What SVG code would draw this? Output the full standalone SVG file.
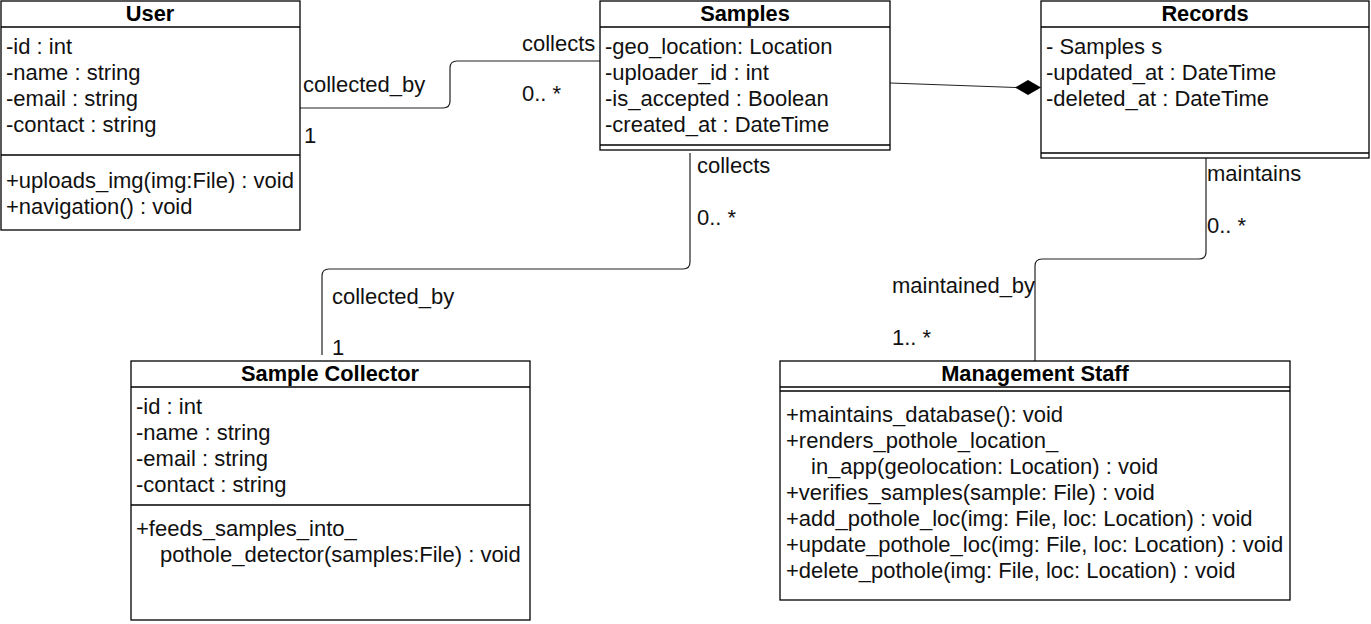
<svg xmlns="http://www.w3.org/2000/svg" width="1371" height="624" viewBox="0 0 1371 624">
<style>
.box{fill:#fff;stroke:#000;stroke-width:1.3}
.ln{stroke:#000;stroke-width:1.3;fill:none}
.t{font-family:"Liberation Sans",Arial,sans-serif;font-size:22px;fill:#111}
.h{font-family:"Liberation Sans",Arial,sans-serif;font-size:21.8px;font-weight:bold;fill:#000;text-anchor:middle}
.c{stroke:#222;stroke-width:1.2;fill:none}
</style>
<rect width="1371" height="624" fill="#fff"/>
<g id="connectors">
<path class="c" d="M300,108 L443,108 Q450,108 450,101 L450,68 Q450,61 457,61 L600,61"/>
<path class="c" d="M890,83 L1016,87.5"/>
<polygon points="1015,87.5 1028,80 1041,87.5 1028,95" fill="#000"/>
<path class="c" d="M690,153 L690,262 Q690,269 683,269 L329,269 Q322,269 322,276 L322,355"/>
<path class="c" d="M1206,158 L1206,252 Q1206,259 1199,259 L1042,259 Q1035,259 1035,266 L1035,361"/>
<text class="t" x="303" y="92">collected_by</text>
<text class="t" x="304" y="143">1</text>
<text class="t" x="522" y="51">collects</text>
<text class="t" x="522" y="101">0.. *</text>
<text class="t" x="697" y="173">collects</text>
<text class="t" x="697" y="225">0.. *</text>
<text class="t" x="332" y="304">collected_by</text>
<text class="t" x="332" y="355">1</text>
<text class="t" x="1207" y="181">maintains</text>
<text class="t" x="1207" y="233">0.. *</text>
<text class="t" x="892" y="293">maintained_by</text>
<text class="t" x="892" y="345">1.. *</text>
</g>
<g id="user">
<rect class="box" x="1" y="1" width="299" height="229"/>
<line class="ln" x1="1" y1="27" x2="300" y2="27"/>
<line class="ln" x1="1" y1="155" x2="300" y2="155"/>
<text class="h" x="150" y="21">User</text>
<text class="t" x="6" y="54">-id : int</text>
<text class="t" x="6" y="80">-name : string</text>
<text class="t" x="6" y="106">-email : string</text>
<text class="t" x="6" y="132">-contact : string</text>
<text class="t" x="6" y="188">+uploads_img(img:File) : void</text>
<text class="t" x="6" y="214">+navigation() : void</text>
</g>
<g id="samples">
<rect class="box" x="600" y="1" width="290" height="149"/>
<line class="ln" x1="600" y1="27" x2="890" y2="27"/>
<line class="ln" x1="600" y1="145" x2="890" y2="145"/>
<text class="h" x="745" y="21">Samples</text>
<text class="t" x="605" y="54">-geo_location: Location</text>
<text class="t" x="605" y="80">-uploader_id : int</text>
<text class="t" x="605" y="106">-is_accepted : Boolean</text>
<text class="t" x="605" y="132">-created_at : DateTime</text>
</g>
<g id="records">
<rect class="box" x="1041" y="1" width="328" height="157"/>
<line class="ln" x1="1041" y1="27" x2="1369" y2="27"/>
<line class="ln" x1="1041" y1="153" x2="1369" y2="153"/>
<text class="h" x="1205" y="21">Records</text>
<text class="t" x="1046" y="54">- Samples s</text>
<text class="t" x="1046" y="80">-updated_at : DateTime</text>
<text class="t" x="1046" y="106">-deleted_at : DateTime</text>
</g>
<g id="sample-collector">
<rect class="box" x="131" y="361" width="399" height="259"/>
<line class="ln" x1="131" y1="387" x2="530" y2="387"/>
<line class="ln" x1="131" y1="505" x2="530" y2="505"/>
<text class="h" x="330" y="381">Sample Collector</text>
<text class="t" x="136" y="414">-id : int</text>
<text class="t" x="136" y="440">-name : string</text>
<text class="t" x="136" y="466">-email : string</text>
<text class="t" x="136" y="492">-contact : string</text>
<text class="t" x="136" y="536">+feeds_samples_into_</text>
<text class="t" x="160" y="562">pothole_detector(samples:File) : void</text>
</g>
<g id="management-staff">
<rect class="box" x="780" y="361" width="510" height="239"/>
<line class="ln" x1="780" y1="387" x2="1290" y2="387"/>
<line class="ln" x1="780" y1="391" x2="1290" y2="391"/>
<text class="h" x="1035" y="381">Management Staff</text>
<text class="t" x="786" y="422">+maintains_database(): void</text>
<text class="t" x="786" y="448">+renders_pothole_location_</text>
<text class="t" x="811" y="474">in_app(geolocation: Location) : void</text>
<text class="t" x="786" y="500">+verifies_samples(sample: File) : void</text>
<text class="t" x="786" y="526">+add_pothole_loc(img: File, loc: Location) : void</text>
<text class="t" x="786" y="552">+update_pothole_loc(img: File, loc: Location) : void</text>
<text class="t" x="786" y="578">+delete_pothole(img: File, loc: Location) : void</text>
</g>
</svg>
